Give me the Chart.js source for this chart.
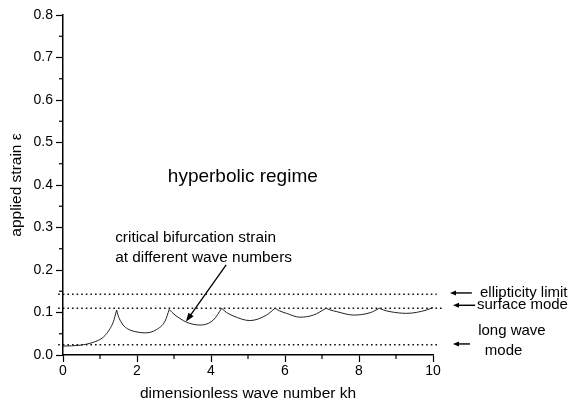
<!DOCTYPE html>
<html>
<head>
<meta charset="utf-8">
<script src="https://cdn.jsdelivr.net/npm/chart.js@4"></script>
<style>
  html, body { margin: 0; padding: 0; background: #fff; }
</style>
</head>
<body>
<canvas id="myChart" width="570" height="408"></canvas>
<script>
// critical bifurcation strain
let kh = [0, 0.46, 0.82, 1.09, 1.27, 1.36, 1.45,
  1.49, 1.56, 1.65, 1.78, 1.95, 2.22, 2.53, 2.76, 2.87,
  3.0, 3.16, 3.34, 3.7, 4.06, 4.29,
  4.42, 4.6, 5.05, 5.5, 5.73,
  5.85, 6.04, 6.4, 6.77, 7.11,
  7.22, 7.4, 7.85, 8.3, 8.55,
  8.66, 8.84, 9.29, 9.83, 10]
let strain = [0.021, 0.023, 0.03, 0.042, 0.062, 0.078, 0.106,
  0.093, 0.079, 0.068, 0.06, 0.055, 0.052, 0.06, 0.08, 0.107,
  0.096, 0.086, 0.077, 0.0705, 0.082, 0.11,
  0.1, 0.092, 0.081, 0.094, 0.11,
  0.104, 0.098, 0.089, 0.094, 0.11,
  0.106, 0.102, 0.094, 0.0995, 0.11,
  0.106, 0.102, 0.098, 0.106, 0.112]
let cusps = [1.45, 2.87, 4.29, 5.73, 7.11, 8.55]

let ellipticityLimit = 0.143
let surfaceMode = 0.11
let longWaveMode = 0.024

let xTicks = [0, 2, 4, 6, 8, 10]
let xMinor = [1, 3, 5, 7, 9]
let yTicks = [0, 0.1, 0.2, 0.3, 0.4, 0.5, 0.6, 0.7, 0.8]
let yMinor = [0.05, 0.15, 0.25, 0.35, 0.45, 0.55, 0.65, 0.75]

const FONT = "'Liberation Sans', Arial, Helvetica, sans-serif"

// split the curve at the cusps so every arch keeps a sharp tip
function arches() {
  let list = []
  let cur = []
  kh.forEach((x, i) => {
    cur.push({x: x, y: strain[i]})
    if (cusps.includes(x)) {
      list.push(cur)
      cur = [{x: x, y: strain[i]}]
    }
  })
  list.push(cur)
  return list
}

function dotted(y, x0, x1) {
  return {
    data: [{x: x0, y: y}, {x: x1, y: y}],
    borderColor: '#111',
    borderWidth: 1.4,
    borderDash: [1.6, 3],
    pointRadius: 0,
    clip: false,
    order: 2
  }
}

let datasets = [
  dotted(ellipticityLimit, -0.13, 10.1),
  dotted(surfaceMode, -0.13, 10.25),
  dotted(longWaveMode, -0.13, 10.12)
]
arches().forEach(a => {
  datasets.push({
    data: a,
    borderColor: '#222',
    borderWidth: 1,
    pointRadius: 0,
    cubicInterpolationMode: 'monotone',
    order: 1
  })
})

function arrow(ctx, x1, y1, x2, y2, len, half) {
  const ang = Math.atan2(y2 - y1, x2 - x1)
  ctx.beginPath()
  ctx.moveTo(x1, y1)
  ctx.lineTo(x2 - Math.cos(ang) * len * 0.8, y2 - Math.sin(ang) * len * 0.8)
  ctx.stroke()
  ctx.beginPath()
  ctx.moveTo(x2, y2)
  ctx.lineTo(x2 - Math.cos(ang) * len + Math.sin(ang) * half, y2 - Math.sin(ang) * len - Math.cos(ang) * half)
  ctx.lineTo(x2 - Math.cos(ang) * len - Math.sin(ang) * half, y2 - Math.sin(ang) * len + Math.cos(ang) * half)
  ctx.closePath()
  ctx.fill()
}

const decorations = {
  id: 'decorations',
  afterDraw(chart) {
    const ctx = chart.ctx
    const sx = chart.scales.x
    const sy = chart.scales.y
    const X = v => sx.getPixelForValue(v)
    const Y = v => sy.getPixelForValue(v)
    const area = chart.chartArea
    ctx.save()
    ctx.strokeStyle = '#000'
    ctx.fillStyle = '#000'
    ctx.lineWidth = 1.2

    // minor ticks
    xMinor.forEach(v => {
      ctx.beginPath()
      ctx.moveTo(X(v), area.bottom)
      ctx.lineTo(X(v), area.bottom + 4)
      ctx.stroke()
    })
    yMinor.forEach(v => {
      ctx.beginPath()
      ctx.moveTo(area.left, Y(v))
      ctx.lineTo(area.left - 4, Y(v))
      ctx.stroke()
    })

    ctx.textBaseline = 'middle'
    ctx.textAlign = 'center'
    ctx.font = '19px ' + FONT
    ctx.fillText('hyperbolic regime', X(4.86), Y(0.42))

    ctx.textAlign = 'left'
    ctx.font = '15.4px ' + FONT
    ctx.fillText('critical bifurcation strain', X(1.41), Y(0.275))
    ctx.fillText('at different wave numbers', X(1.41), Y(0.228))

    ctx.font = '15px ' + FONT
    ctx.fillText('ellipticity limit', X(11.27), Y(0.147))
    ctx.fillText('surface mode', X(11.19), Y(0.118))
    ctx.fillText('long wave', X(11.22), Y(0.056))
    ctx.fillText('mode', X(11.4), Y(0.01))

    ctx.lineWidth = 1.3
    arrow(ctx, X(4.41), Y(0.212), X(3.32), Y(0.078), 9, 3.2)
    ctx.lineWidth = 1.4
    arrow(ctx, X(11.05), Y(0.146), X(10.46), Y(0.146), 6, 2.5)
    arrow(ctx, X(11.14), Y(0.117), X(10.54), Y(0.117), 6, 2.5)
    arrow(ctx, X(11.0), Y(0.026), X(10.54), Y(0.026), 6, 2.5)
    ctx.restore()
  }
}

const config = {
  type: 'line',
  data: { datasets: datasets },
  options: {
    responsive: false,
    animation: false,
    devicePixelRatio: 1,
    layout: { padding: { top: 15, right: 137, left: 0, bottom: 0 } },
    plugins: { legend: { display: false }, tooltip: { enabled: false } },
    scales: {
      x: {
        type: 'linear',
        min: 0,
        max: 10,
        afterBuildTicks: s => { s.ticks = xTicks.map(v => ({value: v})) },
        afterFit: s => { s.height = 53; s.paddingLeft = 0; s.paddingRight = 0 },
        border: { color: '#000', width: 1.5 },
        grid: { drawOnChartArea: false, tickLength: 7, tickColor: '#000', tickWidth: 1.2 },
        ticks: { color: '#000', font: { family: FONT, size: 14 }, padding: 1, maxRotation: 0 },
        title: {
          display: true,
          text: 'dimensionless wave number kh',
          color: '#000',
          font: { family: FONT, size: 15.5 },
          padding: { top: 0, bottom: 5 }
        }
      },
      y: {
        type: 'linear',
        min: 0,
        max: 0.8,
        afterBuildTicks: s => { s.ticks = yTicks.map(v => ({value: v})) },
        afterFit: s => { s.width = 63; s.paddingTop = 0; s.paddingBottom = 0 },
        border: { color: '#000', width: 1.5 },
        grid: { drawOnChartArea: false, tickLength: 7, tickColor: '#000', tickWidth: 1.2 },
        ticks: {
          color: '#000',
          font: { family: FONT, size: 14 },
          padding: 3,
          callback: v => v.toFixed(1)
        },
        title: {
          display: true,
          text: 'applied strain ε',
          color: '#000',
          font: { family: FONT, size: 15.5 },
          padding: { top: 7, bottom: 0 }
        }
      }
    }
  },
  plugins: [decorations]
}

let myChart = new Chart(document.getElementById('myChart'), config)
</script>
</body>
</html>
